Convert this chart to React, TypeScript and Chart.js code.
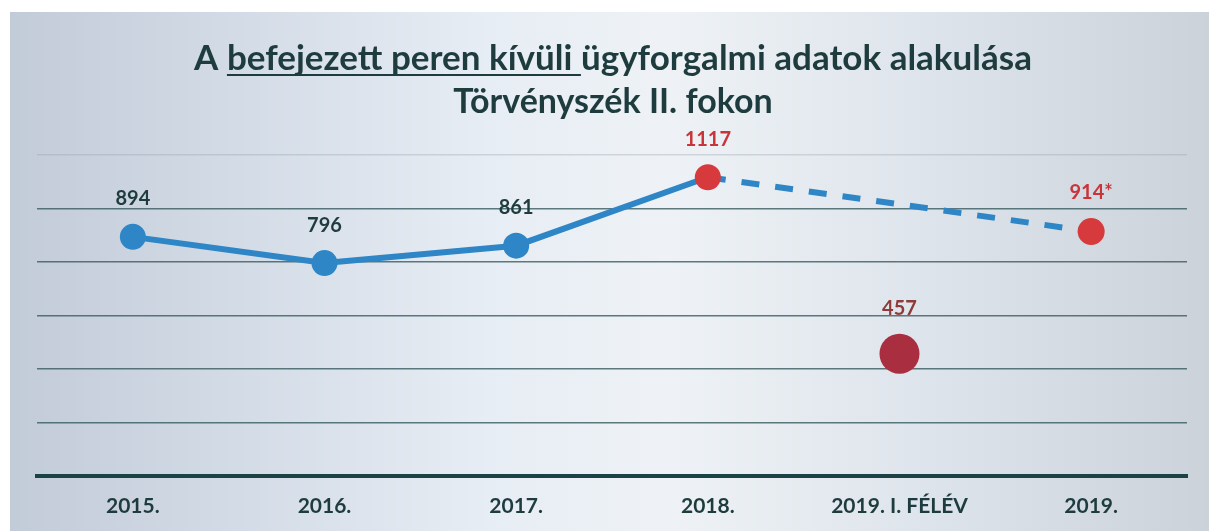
import { useEffect, useRef } from "react";
import { Chart, registerables } from "chart.js";

Chart.register(...registerables);

// ---------- data ----------
const categories = ["2015.", "2016.", "2017.", "2018.", "2019. I. FÉLÉV", "2019."];
const mainValues: (number | null)[] = [894, 796, 861, 1117, null, 914];
const mainLabels = ["894", "796", "861", "1117", "", "914*"];
const halfYearValues: (number | null)[] = [null, null, null, null, 457, null];
const halfYearLabels = ["", "", "", "", "457", ""];
const yMin = 0;
const yMax = 1200;
const yStep = 200;
const titlePre = "A ";
const titleUnderlined = "befejezett peren kívüli ";
const titlePost = "ügyforgalmi adatok alakulása";
const titleLine2 = "Törvényszék II. fokon";

// ---------- styles ----------
const BLUE = "#2e86c6";
const RED = "#d63a3c";
const DARKRED = "#a82e40";
const TEXT = "#1e3c3e";
const LABEL_RED = "#c9343a";
const LABEL_DARKRED = "#8e3b3b";
const FONT = "Lato, 'Open Sans', sans-serif";

const mainPointColors = [BLUE, BLUE, BLUE, RED, BLUE, RED];
const mainPointRadius = [13, 13, 13, 13, 0, 13.5];
const mainLabelColors = [TEXT, TEXT, TEXT, LABEL_RED, TEXT, LABEL_RED];

const bgPlugin = {
  id: "bg",
  beforeDraw(chart: any) {
    const { ctx, width, height } = chart;
    ctx.save();
    ctx.fillStyle = "#ffffff";
    ctx.fillRect(0, 0, width, height);
    const g = ctx.createLinearGradient(10, 0, width, 0);
    g.addColorStop(0, "#c2cbd8");
    g.addColorStop(0.2, "#d4dce7");
    g.addColorStop(0.4, "#e7edf4");
    g.addColorStop(0.55, "#eef2f6");
    g.addColorStop(0.75, "#dfe5ec");
    g.addColorStop(1, "#ccd2d9");
    ctx.fillStyle = g;
    ctx.fillRect(10, 12, width - 10, height - 12);
    ctx.restore();
  },
};

const titlePlugin = {
  id: "customTitle",
  afterDraw(chart: any) {
    const { ctx } = chart;
    const cx = 613;
    ctx.save();
    ctx.fillStyle = TEXT;
    ctx.strokeStyle = TEXT;
    ctx.textBaseline = "alphabetic";
    ctx.textAlign = "left";
    ctx.font = `bold 35px ${FONT}`;
    const wPre = ctx.measureText(titlePre).width;
    const wU = ctx.measureText(titleUnderlined).width;
    const wPost = ctx.measureText(titlePost).width;
    const total = wPre + wU + wPost;
    const x = cx - total / 2;
    const y1 = 70;
    ctx.fillText(titlePre, x, y1);
    ctx.fillText(titleUnderlined, x + wPre, y1);
    ctx.fillText(titlePost, x + wPre + wU, y1);
    ctx.lineWidth = 2;
    ctx.beginPath();
    ctx.moveTo(x + wPre, y1 + 5);
    ctx.lineTo(x + wPre + wU, y1 + 5);
    ctx.stroke();
    ctx.font = `bold 34px ${FONT}`;
    ctx.textAlign = "center";
    ctx.fillText(titleLine2, cx, 113);
    ctx.restore();
  },
};

const labelPlugin = {
  id: "pointLabels",
  afterDatasetsDraw(chart: any) {
    const { ctx } = chart;
    const sets = [
      { idx: 0, labels: mainLabels, colors: mainLabelColors, radius: mainPointRadius },
      { idx: 1, labels: halfYearLabels, colors: halfYearLabels.map(() => LABEL_DARKRED), radius: halfYearLabels.map(() => 20) },
    ];
    ctx.save();
    ctx.font = `bold 20px ${FONT}`;
    ctx.textAlign = "center";
    ctx.textBaseline = "middle";
    for (const s of sets) {
      const meta = chart.getDatasetMeta(s.idx);
      meta.data.forEach((pt: any, i: number) => {
        const text = s.labels[i];
        if (!text || pt.skip) return;
        ctx.fillStyle = s.colors[i];
        ctx.fillText(text, pt.x, pt.y - (s.radius[i] as number) - 25);
      });
    }
    ctx.restore();
  },
};

export default function App() {
  const ref = useRef<HTMLCanvasElement>(null);
  useEffect(() => {
    const chart = new Chart(ref.current!, {
      type: "line",
      data: {
        labels: categories,
        datasets: [
          {
            data: mainValues,
            borderColor: BLUE,
            borderWidth: 6,
            spanGaps: true,
            tension: 0,
            pointRadius: mainPointRadius,
            pointBackgroundColor: mainPointColors,
            pointBorderWidth: 0,
            pointHoverRadius: mainPointRadius,
            segment: {
              borderDash: (c: any) => (c.p0DataIndex >= 3 ? [18, 16] : undefined),
            },
          },
          {
            data: halfYearValues,
            showLine: false,
            pointRadius: 20,
            pointHoverRadius: 20,
            pointBackgroundColor: DARKRED,
            pointBorderWidth: 0,
          },
        ],
      } as any,
      options: {
        animation: false,
        responsive: false,
        events: [],
        layout: { autoPadding: false, padding: { top: 155, left: 37, right: 22, bottom: 13 } },
        plugins: {
          legend: { display: false },
          tooltip: { enabled: false },
          title: { display: false },
        },
        scales: {
          x: {
            offset: true,
            grid: { display: false, drawTicks: false },
            border: { display: true, color: "#1b4346", width: 4 },
            ticks: {
              color: TEXT,
              font: { family: FONT, weight: "bold", size: 21 },
              padding: 18,
              maxRotation: 0,
            },
            afterFit: (s: any) => {
              s.height = 42;
            },
          },
          y: {
            min: yMin,
            max: yMax,
            ticks: { stepSize: yStep, display: false },
            grid: {
              drawTicks: false,
              lineWidth: 1.5,
              color: (c: any) =>
                c.tick && c.tick.value === yMax ? "rgba(150,160,170,0.35)" : "rgba(55,90,95,0.8)",
            },
            border: { display: false },
          },
        },
      } as any,
      plugins: [bgPlugin, titlePlugin, labelPlugin],
    });
    return () => chart.destroy();
  }, []);
  return (
    <div style={{ position: "fixed", left: 0, top: 0, width: 1209, height: 531 }}>
      <canvas ref={ref} width={1209} height={531} style={{ display: "block" }} />
    </div>
  );
}
